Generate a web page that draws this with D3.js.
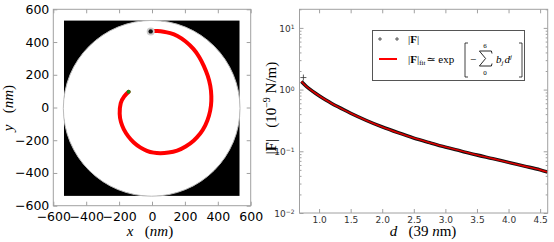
<!DOCTYPE html>
<html>
<head>
<meta charset="utf-8">
<script src="https://cdn.jsdelivr.net/npm/d3@7"></script>
<style>
  body { margin: 0; background: #fff; }
  svg { display: block; }
  .tick text { font-family: "DejaVu Sans", sans-serif; }
  .serif { font-family: "Liberation Serif", "DejaVu Serif", serif; }
</style>
</head>
<body>
<div id="chart"></div>
<script>
// ---- data ----
// left panel: trajectory (nm)
const spiralX = [-142, -170, -193, -199, -190, -173, -145, -112, -72, -31, 10, 51, 100, 153, 205, 254, 295, 325, 348, 360, 362, 356, 340, 315, 288, 254, 205, 153, 110, 71, 30, 0, -8];
const spiralY = [96, 70, 31, -41, -90, -133, -178, -215, -245, -266, -277, -280, -276, -266, -240, -204, -160, -112, -50, 10, 70, 133, 195, 255, 310, 358, 405, 440, 455, 464, 468, 468, 465];
const squareX = [-535, 532];
const squareY = [-540, 531];
const discCenter = [-2, -5];
const discRadius = 537;
const leftTicks = [-600, -400, -200, 0, 200, 400, 600];

// right panel: force vs distance (10^-9 N/m)
const distance = [0.72, 0.8, 0.9, 1.0, 1.1, 1.2, 1.3, 1.4, 1.5, 1.75, 2.0, 2.25, 2.5, 2.75, 3.0, 3.25, 3.5, 3.75, 4.0, 4.25, 4.5, 4.62];
const force = [1.349, 1.122, 0.933, 0.794, 0.684, 0.596, 0.525, 0.465, 0.414, 0.316, 0.248, 0.200, 0.164, 0.138, 0.117, 0.101, 0.087, 0.076, 0.066, 0.0575, 0.050, 0.046];
const rightXTicks = [1.0, 1.5, 2.0, 2.5, 3.0, 3.5, 4.0, 4.5];
const rightYTicks = [0.01, 0.1, 1, 10];
const rightYExp = ['-2', '-1', '0', '1'];

const W = 554, H = 242;
const frameColor = '#a0a0a0';

const svg = d3.select('#chart').append('svg')
  .attr('width', W).attr('height', H);

// ================= left panel =================
const xL = d3.scaleLinear().domain([-600, 600]).range([53.3, 250.7]);
const yL = d3.scaleLinear().domain([-600, 600]).range([205.7, 9.3]);

const left = svg.append('g');

// black square with a white disc on it
left.append('rect')
  .attr('x', xL(squareX[0])).attr('y', yL(squareY[1]))
  .attr('width', xL(squareX[1]) - xL(squareX[0]))
  .attr('height', yL(squareY[0]) - yL(squareY[1]))
  .attr('fill', '#000');

left.append('ellipse')
  .attr('cx', xL(discCenter[0])).attr('cy', yL(discCenter[1]))
  .attr('rx', xL(discRadius) - xL(0))
  .attr('ry', yL(0) - yL(discRadius))
  .attr('fill', '#fff')
  .attr('stroke', '#bbb').attr('stroke-width', 1);

// trajectory
const spiral = spiralX.map((x, i) => [x, spiralY[i]]);
left.append('path')
  .datum(spiral)
  .attr('fill', 'none')
  .attr('stroke', '#f00')
  .attr('stroke-width', 4)
  .attr('stroke-linecap', 'round')
  .attr('d', d3.line().x(d => xL(d[0])).y(d => yL(d[1])).curve(d3.curveBasis));

// end points
const last = spiral[spiral.length - 1];
left.append('circle')
  .attr('cx', xL(last[0])).attr('cy', yL(last[1])).attr('r', 4)
  .attr('fill', '#ccc');
left.append('circle')
  .attr('cx', xL(last[0])).attr('cy', yL(last[1])).attr('r', 2.2)
  .attr('fill', '#111');
left.append('circle')
  .attr('cx', xL(spiral[0][0])).attr('cy', yL(spiral[0][1])).attr('r', 2)
  .attr('fill', '#1a8a1a');

// axes, ticks inward
function styleAxis(g, size) {
  g.select('.domain').remove();
  g.selectAll('.tick line').attr('stroke', frameColor);
  g.selectAll('.tick text').attr('font-size', size).attr('fill', '#000');
}

const minus = d => d3.format('d')(d).replace('-', '\u2212');

left.append('g')
  .attr('transform', `translate(0,${yL(-600)})`)
  .call(d3.axisBottom(xL).tickValues(leftTicks).tickSize(-4).tickPadding(6).tickFormat(minus))
  .call(g => styleAxis(g, 12.5));
left.append('g')
  .attr('transform', `translate(${xL(-600)},0)`)
  .call(d3.axisLeft(yL).tickValues(leftTicks).tickSize(-4).tickPadding(4).tickFormat(minus))
  .call(g => styleAxis(g, 12.5));
left.append('g')
  .attr('transform', `translate(0,${yL(600)})`)
  .call(d3.axisTop(xL).tickValues(leftTicks).tickSize(-4).tickFormat(''))
  .call(g => styleAxis(g, 12.5));
left.append('g')
  .attr('transform', `translate(${xL(600)},0)`)
  .call(d3.axisRight(yL).tickValues(leftTicks).tickSize(-4).tickFormat(''))
  .call(g => styleAxis(g, 12.5));

left.append('rect')
  .attr('x', xL(-600)).attr('y', yL(600))
  .attr('width', xL(600) - xL(-600)).attr('height', yL(-600) - yL(600))
  .attr('fill', 'none').attr('stroke', frameColor).attr('stroke-width', 1);

// axis labels
const xLab = left.append('text').attr('class', 'serif')
  .attr('x', 150).attr('y', 236).attr('text-anchor', 'middle').attr('font-size', 15);
xLab.append('tspan').attr('font-style', 'italic').text('x');
xLab.append('tspan').text('\u2002 (');
xLab.append('tspan').attr('font-style', 'italic').text('nm');
xLab.append('tspan').text(')');

const yLab = left.append('text').attr('class', 'serif')
  .attr('transform', 'translate(13,108) rotate(-90)')
  .attr('text-anchor', 'middle').attr('font-size', 15);
yLab.append('tspan').attr('font-style', 'italic').text('y');
yLab.append('tspan').text('\u2002 (');
yLab.append('tspan').attr('font-style', 'italic').text('nm');
yLab.append('tspan').text(')');

// ================= right panel =================
const xR = d3.scaleLinear().domain([0.69, 4.62]).range([299.5, 547.7]);
const yR = d3.scaleLog().domain([0.01, 20]).range([213, 9.3]);

const right = svg.append('g');

const minorY = [];
[0.01, 0.1, 1, 10].forEach(dec => {
  for (let k = 2; k <= 9; k += 1) {
    if (dec * k <= 20) minorY.push(dec * k);
  }
});

right.append('g')
  .attr('transform', `translate(0,${yR(0.01)})`)
  .call(d3.axisBottom(xR).tickValues(rightXTicks).tickSize(-4).tickPadding(4)
    .tickFormat(d3.format('.1f')))
  .call(g => styleAxis(g, 9))
  .call(g => g.selectAll('.tick text').attr('fill', '#333'));
right.append('g')
  .attr('transform', `translate(0,${yR(20)})`)
  .call(d3.axisTop(xR).tickValues(rightXTicks).tickSize(-4).tickFormat(''))
  .call(g => styleAxis(g, 9));

const yAx = right.append('g')
  .attr('transform', `translate(${xR(0.69)},0)`)
  .call(d3.axisLeft(yR).tickValues(rightYTicks).tickSize(-4).tickPadding(6).tickFormat(''))
  .call(g => styleAxis(g, 9));
yAx.selectAll('.tick').append('text')
  .attr('x', -5).attr('dy', '0.35em').attr('text-anchor', 'end')
  .attr('font-size', 9).attr('fill', '#333')
  .each(function addLabel(d, i) {
    const t = d3.select(this);
    t.append('tspan').text('10');
    t.append('tspan').attr('dy', '-0.45em').attr('font-size', 6)
      .text(rightYExp[i].replace('-', '\u2212'));
  });
right.append('g')
  .attr('transform', `translate(${xR(0.69)},0)`)
  .call(d3.axisLeft(yR).tickValues(minorY).tickSize(-2).tickFormat(''))
  .call(g => styleAxis(g, 9));
right.append('g')
  .attr('transform', `translate(${xR(4.62)},0)`)
  .call(d3.axisRight(yR).tickValues(rightYTicks).tickSize(-4).tickFormat(''))
  .call(g => styleAxis(g, 9));
right.append('g')
  .attr('transform', `translate(${xR(4.62)},0)`)
  .call(d3.axisRight(yR).tickValues(minorY).tickSize(-2).tickFormat(''))
  .call(g => styleAxis(g, 9));

// data (dense + markers read as a thick black line) and the red fit on top
const lineR = d3.line().x((d, i) => xR(distance[i])).y(d => yR(d)).curve(d3.curveMonotoneX);
right.append('path').datum(force)
  .attr('fill', 'none').attr('stroke', '#111').attr('stroke-width', 3.4)
  .attr('d', lineR);
right.append('path').datum(force)
  .attr('fill', 'none').attr('stroke', '#d00').attr('stroke-width', 1.6)
  .attr('d', lineR);

// first data marker sticking out
right.append('path')
  .attr('d', `M${xR(distance[0]) + 2},${yR(force[0]) - 7}v6M${xR(distance[0]) - 1},${yR(force[0]) - 4}h6`)
  .attr('stroke', '#333').attr('stroke-width', 0.8);

right.append('rect')
  .attr('x', xR(0.69)).attr('y', yR(20))
  .attr('width', xR(4.62) - xR(0.69)).attr('height', yR(0.01) - yR(20))
  .attr('fill', 'none').attr('stroke', frameColor).attr('stroke-width', 1);

// x label
const dLab = right.append('text').attr('class', 'serif')
  .attr('x', 423).attr('y', 236).attr('text-anchor', 'middle').attr('font-size', 15);
dLab.append('tspan').attr('font-style', 'italic').text('d');
dLab.append('tspan').text('\u2002 (39 ');
dLab.append('tspan').attr('font-style', 'italic').text('n');
dLab.append('tspan').text('m)');

// y label
const fLab = right.append('text').attr('class', 'serif')
  .attr('transform', 'translate(276,108) rotate(-90)')
  .attr('text-anchor', 'middle').attr('font-size', 15);
fLab.append('tspan').text('|');
fLab.append('tspan').attr('font-weight', 'bold').text('F');
fLab.append('tspan').text('|\u2002 (10');
fLab.append('tspan').attr('dy', -6).attr('font-size', 10).text('\u22129');
fLab.append('tspan').attr('dy', 6).text(' N/m)');

// ---- legend ----
const leg = right.append('g');
leg.append('rect')
  .attr('x', 372.5).attr('y', 30.5).attr('width', 152).attr('height', 50)
  .attr('fill', '#fff').attr('stroke', '#555').attr('stroke-width', 1);

[380, 397].forEach(x => {
  leg.append('path').attr('d', `M${x - 2},39h4M${x},37v4`)
    .attr('stroke', '#333').attr('stroke-width', 0.8);
});
leg.append('line')
  .attr('x1', 379).attr('x2', 397).attr('y1', 59).attr('y2', 59)
  .attr('stroke', '#f00').attr('stroke-width', 2);

const l1 = leg.append('text').attr('class', 'serif')
  .attr('x', 408).attr('y', 43).attr('font-size', 11);
l1.append('tspan').text('|');
l1.append('tspan').attr('font-weight', 'bold').text('F');
l1.append('tspan').text('|');

const l2 = leg.append('text').attr('class', 'serif')
  .attr('x', 408).attr('y', 63).attr('font-size', 11);
l2.append('tspan').text('|');
l2.append('tspan').attr('font-weight', 'bold').text('F');
l2.append('tspan').text('|');
l2.append('tspan').attr('dy', 2).attr('font-size', 7).text('fit');
l2.append('tspan').attr('dy', -2).attr('dx', 1).text('\u2243 exp');

// brackets and sum
leg.append('path')
  .attr('d', 'M468,43h-3v34h3M519,43h3v34h-3')
  .attr('fill', 'none').attr('stroke', '#111').attr('stroke-width', 0.8);
leg.append('text').attr('class', 'serif')
  .attr('x', 470).attr('y', 63).attr('font-size', 11).text('\u2212');
// big sigma drawn as a path
leg.append('path')
  .attr('d', 'M492,53.5l-0.6,-2.5h-12l6.2,7.5l-6.2,7.5h12l0.6,-2.5')
  .attr('fill', 'none').attr('stroke', '#111').attr('stroke-width', 0.9)
  .attr('stroke-linejoin', 'miter');
leg.append('text').attr('class', 'serif')
  .attr('x', 485).attr('y', 48).attr('text-anchor', 'middle').attr('font-size', 7).text('6');
leg.append('text').attr('class', 'serif')
  .attr('x', 485).attr('y', 75).attr('text-anchor', 'middle').attr('font-size', 7).text('0');
const bt = leg.append('text').attr('class', 'serif')
  .attr('x', 496).attr('y', 63).attr('font-size', 11).attr('font-style', 'italic');
bt.append('tspan').text('b');
bt.append('tspan').attr('dy', 2).attr('font-size', 7).text('j');
bt.append('tspan').attr('dy', -2).attr('dx', 1).text('d');
bt.append('tspan').attr('dy', -4).attr('font-size', 7).text('j');
</script>
</body>
</html>
